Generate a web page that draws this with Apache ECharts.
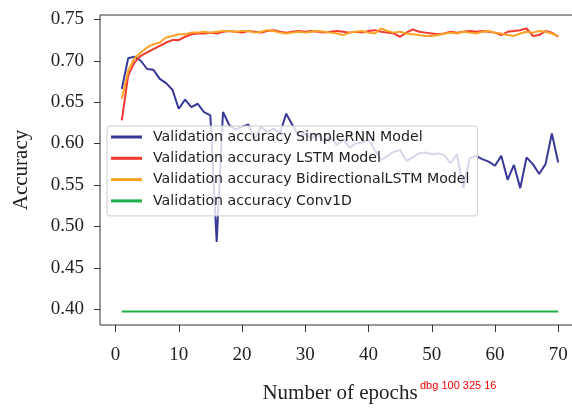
<!DOCTYPE html>
<html><head><meta charset="utf-8">
<script src="https://cdn.jsdelivr.net/npm/echarts@6/dist/echarts.min.js"></script>
<style>html,body{margin:0;padding:0;background:#fff}#c{width:572px;height:408px}</style>
</head><body><div id="c"></div>
<script>
const epochs = Array.from({length: 70}, (_, i) => i + 1);
const simpleRNN = [0.666,0.703,0.705,0.700,0.690,0.689,0.678,0.673,0.665,0.642,
  0.653,0.644,0.648,0.638,0.634,0.481,0.638,0.622,0.617,0.620,
  0.623,0.605,0.620,0.614,0.618,0.612,0.636,0.622,0.608,0.612,
  0.606,0.612,0.602,0.608,0.598,0.605,0.595,0.600,0.601,0.605,
  0.592,0.580,0.585,0.590,0.592,0.579,0.583,0.588,0.589,0.587,
  0.588,0.586,0.576,0.587,0.546,0.582,0.585,0.581,0.578,0.573,
  0.585,0.556,0.574,0.546,0.583,0.575,0.563,0.575,0.612,0.577];
const lstm = [0.628,0.682,0.698,0.706,0.710,0.714,0.718,0.722,0.725,0.725,
  0.729,0.732,0.733,0.733,0.734,0.733,0.735,0.736,0.735,0.734,
  0.736,0.735,0.734,0.736,0.737,0.735,0.734,0.735,0.736,0.735,
  0.736,0.735,0.734,0.735,0.736,0.735,0.734,0.735,0.734,0.736,
  0.737,0.735,0.734,0.733,0.729,0.734,0.738,0.735,0.734,0.733,
  0.732,0.733,0.735,0.734,0.735,0.736,0.735,0.736,0.735,0.734,
  0.731,0.735,0.736,0.737,0.739,0.730,0.731,0.736,0.734,0.729];
const biLstm = [0.654,0.688,0.703,0.710,0.716,0.720,0.722,0.728,0.730,0.732,
  0.732,0.734,0.734,0.735,0.734,0.735,0.736,0.736,0.735,0.736,
  0.736,0.734,0.735,0.737,0.736,0.734,0.733,0.734,0.735,0.734,
  0.735,0.736,0.735,0.734,0.733,0.731,0.734,0.735,0.736,0.734,
  0.733,0.739,0.736,0.734,0.735,0.733,0.732,0.731,0.730,0.730,
  0.731,0.733,0.734,0.733,0.735,0.734,0.733,0.735,0.736,0.734,
  0.733,0.731,0.730,0.733,0.735,0.734,0.736,0.735,0.733,0.730];
const conv1d = epochs.map(() => 0.3968);
const xTicks = [0, 10, 20, 30, 40, 50, 60, 70];
const yTicks = [0.40, 0.45, 0.50, 0.55, 0.60, 0.65, 0.70, 0.75];
const xLimits = [-2.45, 73.45];
const yLimits = [0.3805, 0.7553];
const seriesNames = ['Validation accuracy SimpleRNN Model','Validation accuracy LSTM Model','Validation accuracy BidirectionalLSTM Model','Validation accuracy Conv1D'];
const colors = ['#383899','#f2392b','#fca226','#1caf4b'];
const allData = [simpleRNN, lstm, biLstm, conv1d];

const chart = echarts.init(document.getElementById('c'), null, {renderer: 'canvas'});
const serif = 'Liberation Serif';
chart.setOption({
  animation: false,
  grid: {left: 100, width: 480, top: 15, bottom: 83, outerBoundsMode: 'none', containLabel: false,
    show: true, borderColor: '#333', borderWidth: 1, backgroundColor: 'transparent'},
  xAxis: {type: 'value', min: xLimits[0], max: xLimits[1],
    axisLine: {show: false, onZero: false},
    axisTick: {show: false},
    axisLabel: {fontFamily: serif, fontSize: 19, color: '#222', margin: 21, customValues: xTicks},
    splitLine: {show: false},
    name: 'Number of epochs', nameLocation: 'middle', nameGap: 58,
    nameTextStyle: {fontFamily: serif, fontSize: 21, color: '#222'}},
  yAxis: {type: 'value', min: yLimits[0], max: yLimits[1],
    axisLine: {show: false, onZero: false},
    axisTick: {show: false},
    axisLabel: {fontFamily: serif, fontSize: 19, color: '#222', margin: 16, customValues: yTicks, formatter: v => v.toFixed(2)},
    splitLine: {show: false},
    name: 'Accuracy', nameLocation: 'middle', nameGap: 68, nameRotate: 90,
    nameTextStyle: {fontFamily: serif, fontSize: 21, color: '#222'}},
  legend: {
    orient: 'vertical', left: 107, top: 126,
    padding: [3, 8, 7, 4], itemGap: 5.3,
    itemWidth: 31, itemHeight: 3, icon: 'rect',
    backgroundColor: 'rgba(255,255,255,0.8)', borderColor: '#cccccc', borderWidth: 1, borderRadius: 3,
    textStyle: {fontFamily: 'DejaVu Sans', fontSize: 14.2, color: '#222', lineHeight: 16, padding: [0,0,0,6]},
    data: seriesNames
  },
  series: seriesNames.map((n, i) => ({
    name: n, type: 'line',
    data: epochs.map((e, j) => [e, allData[i][j]]),
    showSymbol: false, symbol: 'none',
    color: colors[i],
    lineStyle: {width: 2, color: colors[i]}
  }))
});

const leftPx = chart.convertToPixel({xAxisIndex: 0}, xLimits[0]);
const bottomPx = chart.convertToPixel({yAxisIndex: 0}, yLimits[0]);
const ticks = [];
xTicks.forEach(v => {
  const px = chart.convertToPixel({xAxisIndex: 0}, v);
  ticks.push({type: 'rect', silent: true, z: 100,
    shape: {x: Math.round(px), y: Math.round(bottomPx), width: 1, height: 7}, style: {fill: '#333'}});
});
yTicks.forEach(v => {
  const py = chart.convertToPixel({yAxisIndex: 0}, v);
  ticks.push({type: 'rect', silent: true, z: 100,
    shape: {x: Math.round(leftPx) - 6, y: Math.round(py), width: 6, height: 1}, style: {fill: '#333'}});
});
ticks.push({type: 'text', z: 100, left: 420, top: 380, style: {text: 'dbg ' + leftPx + ' ' + bottomPx + ' ' + ticks.length, fill: '#f00', fontSize: 11}});
chart.setOption({graphic: {elements: ticks}});
</script></body></html>
